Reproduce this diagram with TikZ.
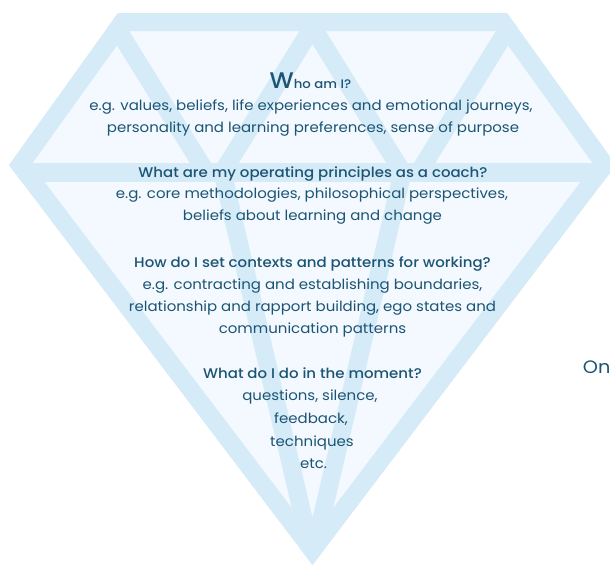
\documentclass[tikz,border=0pt]{standalone}
\usepackage{fontspec}
\setmainfont{Poppins}[FakeStretch=1.07]
\newfontfamily\headfont{Poppins Medium}[FakeStretch=1.07]
\definecolor{facet}{RGB}{214,235,248}
\definecolor{paleface}{RGB}{243,249,254}
\definecolor{ink}{RGB}{28,85,116}
\begin{document}
\begin{tikzpicture}[x=1pt,y=-1pt,
  bodytext/.style={font=\fontsize{14}{16}\selectfont, text=ink, inner sep=0pt, anchor=base},
  headtext/.style={font=\headfont\fontsize{14}{16}\selectfont, text=ink, inner sep=0pt, anchor=base},
  facetline/.style={draw=facet, line width=18pt},
]
\useasboundingbox (0,0) rectangle (610,565);

% outline of the gem
\coordinate (tl) at (118,13);
\coordinate (tr) at (507,13);
\coordinate (rp) at (616,165);
\coordinate (tip) at (312.5,565);
\coordinate (lp) at (9,165);

\begin{scope}
  \clip (tl) -- (tr) -- (rp) -- (tip) -- (lp) -- cycle;
  \fill[paleface] (tl) -- (tr) -- (rp) -- (tip) -- (lp) -- cycle;
  % outer rim: half of a double-width stroke survives the clip
  \draw[draw=facet, line width=36pt, line join=miter] (tl) -- (tr) -- (rp) -- (tip) -- (lp) -- cycle;
  % girdle
  \draw[draw=facet, line width=19pt] (0,172.5) -- (625,172.5);
  % crown facets
  \draw[facetline] (99.3,0) -- (206.3,172.5);
  \draw[facetline] (329.3,0) -- (222.3,172.5);
  \draw[facetline] (295.7,0) -- (402.7,172.5);
  \draw[facetline] (525.7,0) -- (418.7,172.5);
  % pavilion facets
  \coordinate (pl) at (222.5,172.5);
  \coordinate (pr) at (402.5,172.5);
  \coordinate (pc) at (312.5,557);
  \draw[facetline, line join=miter] (pl) -- (pc) -- (pr);
\end{scope}

% texts
\node[headtext, font=\headfont\fontsize{12.4}{14}\selectfont] (who) at (310.5,88.5) {{\fontsize{22.6}{22.6}\selectfont W}ho am I?};
\node[bodytext] (who1) at (311,110.5) {e.g. values, beliefs, life experiences and emotional journeys,};
\node[bodytext] (who2) at (313,132.5) {personality and learning preferences, sense of purpose};

\node[headtext] (prin) at (313,177) {What are my operating principles as a coach?};
\node[bodytext] (prin1) at (312,198.5) {e.g. core methodologies, philosophical perspectives,};
\node[bodytext] (prin2) at (312.5,220) {beliefs about learning and change};

\node[headtext] (ctx) at (312.5,267) {How do I set contexts and patterns for working?};
\node[bodytext] (ctx1) at (312.5,289) {e.g. contracting and establishing boundaries,};
\node[bodytext] (ctx2) at (312.5,311) {relationship and rapport building, ego states and};
\node[bodytext] (ctx3) at (312.5,333) {communication patterns};

\node[headtext] (mom) at (312.5,378) {What do I do in the moment?};
\node[bodytext] (mom1) at (310,400.5) {questions, silence,};
\node[bodytext] (mom2) at (311,423) {feedback,};
\node[bodytext] (mom3) at (312,446) {techniques};
\node[bodytext] (mom4) at (313.5,468) {etc.};

\node[bodytext, anchor=base west, font=\fontsize{18}{20}\selectfont] (side) at (582.7,373.3) {On};
\end{tikzpicture}
\end{document}
